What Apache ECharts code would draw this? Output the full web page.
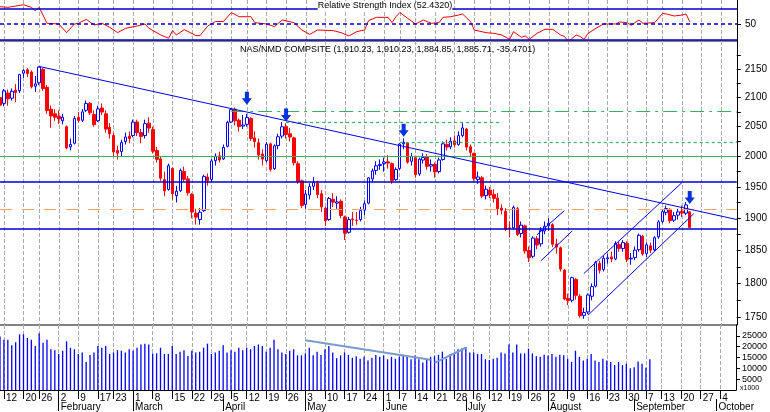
<!DOCTYPE html>
<html><head><meta charset="utf-8">
<script src="https://cdn.jsdelivr.net/npm/echarts@6/dist/echarts.min.js"></script>
<style>html,body{margin:0;padding:0;background:#fff}#c{width:770px;height:412px}</style>
</head><body><div id="c"></div>
<script>
// ---- data ----
const holidays = ['2004-01-19','2004-02-16','2004-04-09','2004-05-31','2004-06-11','2004-07-05','2004-09-06'];
const firstDay = '2004-01-09', lastDay = '2004-10-08';
const monthNames = ['January','February','March','April','May','June','July','August','September','October','November','December'];
const opens = [2100,2090,2108,2099,2113,2112,2143,2149,2145,2120,2126,2150,2118,2080,2072,2068,2060,2050,2016,2022,2066,2061,2078,2090,2071,2060,2082,2072,2049,2035,2010,2008,2025,2034,2035,2058,2040,2035,2056,2045,2010,1996,1962,1946,1980,1936,1944,1975,1963,1938,1908,1898,1912,1966,1962,1993,2001,1996,2017,2058,2080,2061,2051,2054,2064,2031,2023,2004,1993,2021,1980,2018,2034,2050,2038,2031,1988,1960,1922,1937,1951,1956,1939,1916,1898,1930,1924,1927,1902,1878,1899,1897,1898,1913,1924,1963,1977,1985,1988,1991,1988,1962,1980,2021,2022,1992,1998,1971,1994,1999,1984,1987,1975,1995,2020,2016,2026,2020,2035,2046,2016,2005,1962,1965,1936,1945,1938,1932,1916,1911,1885,1885,1915,1876,1888,1850,1841,1868,1860,1880,1888,1890,1860,1854,1820,1778,1775,1806,1781,1753,1758,1781,1796,1830,1821,1837,1840,1837,1859,1853,1861,1837,1839,1851,1872,1845,1857,1851,1871,1895,1909,1914,1897,1905,1911,1908,1910.23];
const closes = [2086.9,2111.8,2097.8,2111.1,2109.1,2140.5,2147.6,2142.5,2119.0,2123.9,2153.8,2116.0,2077.7,2068.2,2066.1,2063.2,2066.2,2014.1,2019.9,2064.0,2060.6,2075.3,2089.7,2073.6,2053.6,2080.4,2075.0,2045.9,2037.9,2007.5,2005.4,2023.0,2032.6,2029.8,2057.8,2039.7,2033.4,2055.1,2047.6,2008.8,1995.2,1964.2,1943.9,1984.7,1939.2,1943.1,1976.8,1962.4,1940.5,1909.9,1901.8,1909.5,1967.2,1960.0,1992.6,2000.6,1994.2,2015.0,2057.2,2079.1,2059.9,2050.2,2052.9,2065.5,2030.1,2024.9,2002.2,1995.7,2020.4,1978.6,2017.7,2032.9,2049.8,2036.8,2032.5,1989.5,1958.8,1920.2,1938.7,1950.5,1957.3,1937.7,1918.0,1896.1,1931.3,1925.6,1926.0,1904.3,1876.6,1897.8,1898.2,1896.6,1912.1,1923.0,1964.7,1976.2,1984.5,1986.7,1990.8,1989.0,1960.3,1978.6,2020.6,2023.5,1990.6,1999.9,1970.0,1995.6,1998.2,1983.7,1986.7,1974.4,1994.2,2021.0,2015.6,2025.5,2019.8,2034.9,2047.8,2015.6,2006.7,1963.9,1966.1,1935.3,1946.3,1936.9,1931.7,1914.9,1912.7,1883.2,1883.8,1917.1,1874.4,1889.1,1849.1,1839.0,1869.1,1858.3,1881.1,1887.4,1892.1,1859.4,1855.1,1821.6,1776.9,1774.6,1808.7,1782.4,1752.5,1757.2,1782.8,1795.3,1831.4,1819.9,1838.0,1838.7,1836.9,1860.7,1852.9,1862.1,1836.5,1838.1,1850.4,1873.4,1844.5,1858.6,1850.4,1869.6,1894.3,1910.4,1915.4,1896.5,1904.1,1910.1,1908.1,1921.2,1885.71];
const highs = [2110,2115,2114,2116,2124,2142,2150,2152,2148,2138,2155,2152,2122,2086,2080,2078,2072,2052,2030,2068,2075,2080,2095,2092,2078,2086,2090,2078,2056,2040,2018,2028,2040,2042,2062,2062,2046,2062,2066,2050,2016,2000,1975,1988,1982,1952,1980,1983,1968,1940,1915,1916,1970,1972,1996,2005,2008,2020,2060,2082,2083,2064,2070,2072,2066,2042,2030,2012,2024,2023,2020,2038,2058,2056,2048,2033,1992,1962,1945,1956,1966,1960,1945,1918,1934,1940,1935,1930,1904,1902,1910,1910,1918,1928,1966,1980,1992,1995,1998,2002,1990,1982,2022,2030,2024,2006,2000,1998,2005,2004,1995,1990,1998,2025,2028,2032,2035,2042,2056,2048,2020,2006,1975,1968,1952,1950,1946,1940,1922,1916,1895,1920,1918,1895,1890,1856,1872,1872,1886,1895,1900,1892,1868,1856,1822,1785,1810,1808,1784,1764,1785,1800,1834,1834,1842,1845,1848,1864,1864,1866,1864,1846,1856,1876,1874,1862,1862,1872,1897,1914,1920,1916,1910,1915,1920,1926,1910.23];
const lows = [2080,2085,2086,2095,2092,2108,2135,2136,2116,2110,2122,2112,2072,2048,2060,2055,2054,2012,2010,2020,2057,2058,2075,2070,2050,2058,2070,2040,2030,2000,1995,2000,2020,2022,2032,2034,2022,2030,2040,2005,1990,1960,1935,1944,1930,1925,1942,1958,1936,1900,1890,1890,1910,1952,1958,1985,1990,1994,2015,2056,2052,2042,2046,2050,2026,2015,1995,1985,1990,1975,1978,2012,2030,2030,2025,1985,1955,1916,1915,1930,1945,1932,1910,1888,1896,1918,1915,1900,1866,1876,1888,1890,1895,1905,1922,1958,1970,1978,1975,1980,1955,1960,1978,2012,1988,1985,1965,1968,1988,1978,1975,1965,1972,1993,2010,2012,2015,2018,2032,2010,2000,1960,1955,1932,1930,1932,1925,1905,1906,1880,1870,1882,1872,1870,1845,1832,1838,1852,1856,1875,1880,1855,1845,1818,1775,1768,1772,1776,1750,1748,1755,1775,1794,1815,1818,1830,1832,1835,1848,1848,1832,1828,1835,1848,1842,1840,1846,1848,1868,1892,1905,1892,1894,1898,1902,1905,1884.85];
const volumes = [24700,23200,23200,20700,22000,25700,25700,24000,23200,20300,26200,21800,23200,18800,18400,
16600,18100,22500,19500,18800,16600,17300,12900,16200,17300,20300,19500,20300,16600,17300,18400,18100,17300,18800,
18100,19500,21000,21300,21000,16900,16900,19500,16600,16600,20300,16600,17700,18400,15700,18100,17300,17700,19500,21400,16600,17300,18100,
20600,17300,18400,17700,19500,18400,19500,18800,20300,21000,20300,17700,19500,23200,18800,17300,16600,18100,18800,16000,16000,
16900,19500,16000,17700,16200,18800,20300,17300,14700,16000,17300,16200,14900,15600,14400,15300,13600,14900,16200,15300,
15900,14200,15300,14400,15300,16300,15600,14200,15900,14200,12700,14400,15300,15600,16200,17700,14400,16600,16900,18800,19100,
19800,17300,17300,16600,16600,14200,13900,14400,14900,17300,16900,21000,17300,21000,16900,16900,19100,16900,15600,15300,16300,
15900,16600,15300,16300,16000,14400,12900,18100,15300,13600,14400,16600,13600,12900,14400,13600,12900,11500,12900,11500,12200,10000,
10500,13200,12100,10300,14200];
const rsiIdx = [0,2,4,6,8,9,10,12,15,17,19,20,22,24,26,28,30,32,35,36,37,38,41,43,44,45,47,50,51,53,55,57,59,61,64,65,68,70,72,75,77,79,81,85,87,89,91,93,94,96,99,100,101,102,104,106,108,110,112,113,115,117,118,120,121,124,126,128,130,131,133,134,135,137,139,141,143,144,145,147,148,149,150,152,154,157,158,160,161,163,164,167,169,170,172,174,175,176];
const rsiVal = [72.3,71.5,73.2,74.9,71.5,67.2,71.5,50.9,50,38.8,50,50.9,56,48.7,50.9,45.7,38.8,44.4,47.4,48.7,50,44.4,35.8,31.5,41.4,35.8,42.7,35,35,47.4,53.2,53.2,64.8,59.4,59.4,51.7,50,46.6,55.2,51.7,42.2,36.5,42.2,41.4,38.8,34.5,40.1,42.2,54.3,58.6,58.6,51.7,59.4,64.8,57.3,50,55.2,50.9,51.7,58.6,59.4,61.6,62.9,53.2,42.2,38.8,37.9,35.8,30.2,40.1,32.8,34.5,30.2,37.9,43.1,43.1,35.8,33.7,27.3,35.8,33.7,30.2,37.9,44.4,50,50,52.6,51.7,48.3,55.2,50.9,51.7,63.7,62.9,60.3,61.6,62.9,52.4];
const priceTicks = [1750,1800,1850,1900,1950,2000,2050,2100,2150];
const volumeTicks = [5000,10000,15000,20000,25000];
const levels = {greenSolid:2000, blueHigh:1959, orange:1914, blueLow:1883};
const rsiTitle = 'Relative Strength Index (52.4320)';
const priceTitle = 'NAS/NMD COMPSITE (1,910.23, 1,910.23, 1,884.85, 1,885.71, -35.4701)';

// ---- categories (trading days) ----
const categories = [];
{ let d = new Date(firstDay+'T00:00:00Z'); const end = new Date(lastDay+'T00:00:00Z');
  while (d <= end) { const s = d.toISOString().slice(0,10); const wd = d.getUTCDay();
    if (wd>0 && wd<6 && holidays.indexOf(s)<0) categories.push(s); d = new Date(d.getTime()+86400000); } }
const weekStart = new Set(), monthStart = new Set();
for (let i=1;i<categories.length;i++){
  const a=new Date(categories[i-1]+'T00:00:00Z'), b=new Date(categories[i]+'T00:00:00Z');
  if (b.getUTCDay() < a.getUTCDay() || (b-a) > 4*86400000) weekStart.add(i);
  if (a.getUTCMonth()!==b.getUTCMonth()) monthStart.add(i);
}
const C = i => categories[i];
const candle = closes.map((c,i)=>[opens[i],c,lows[i],highs[i]]);
const font = 'Liberation Sans';
const arrowPath = 'path://M3,0 L7,0 L7,6 L10,6 L5,12 L0,6 L3,6 Z';
const seg = (i1,p1,i2,p2,style)=>[{coord:[C(i1),p1],lineStyle:style},{coord:[C(i2),p2]}];
const blueLine = {color:'#0000ee',width:1,type:'solid'};
const last = categories.length-1;
const plain = v => String(Math.round(v));

const chart = echarts.init(document.getElementById('c'),null,{renderer:'canvas'});
const vgrid = {type:'dashed',color:'#aaaaaa',width:1};
function xa(gi, extra){ return Object.assign({type:'category',gridIndex:gi,data:categories,boundaryGap:false,position:'bottom',
  axisLine:{show:false},axisTick:{show:false},axisLabel:{show:false},
  splitLine:{show:true,interval:(i)=>weekStart.has(i),lineStyle:vgrid}},extra||{}); }
chart.setOption({
  animation:false,
  grid:[{left:0,right:33,top:0,height:41},{left:0,right:33,top:41,height:284},{left:0,right:33,top:325,height:66}],
  xAxis:[xa(0),xa(1),
    xa(2,{axisLine:{show:true,lineStyle:{color:'#000'}},axisTick:{show:true,interval:(i)=>weekStart.has(i),length:9,lineStyle:{color:'#000'}},
      axisLabel:{show:true,interval:(i)=>weekStart.has(i),formatter:v=>String(+v.slice(8)),align:'left',padding:[0,0,0,2],margin:3,fontSize:10,fontFamily:font,color:'#000'}}),
    xa(2,{splitLine:{show:false},offset:9,axisTick:{show:true,interval:(i)=>monthStart.has(i),length:12,lineStyle:{color:'#000'}},
      axisLabel:{show:true,interval:(i)=>monthStart.has(i),formatter:v=>monthNames[+v.slice(5,7)-1],align:'left',padding:[0,0,0,2],margin:3,fontSize:10,fontFamily:font,color:'#000'}})],
  yAxis:[
    {type:'value',gridIndex:0,min:28,max:81,position:'right',axisLine:{show:true,lineStyle:{color:'#000'}},
     axisTick:{show:true,customValues:[50],length:4,lineStyle:{color:'#000'}},splitLine:{show:false},
     axisLabel:{customValues:[50],formatter:plain,fontSize:10,fontFamily:font,color:'#000',margin:8}},
    {type:'log',gridIndex:1,min:1739,max:2201,position:'right',axisLine:{show:true,lineStyle:{color:'#000'}},
     axisTick:{show:true,customValues:[1750,1775,1800,1825,1850,1875,1900,1925,1950,1975,2000,2025,2050,2075,2100,2125,2150,2175],length:4,lineStyle:{color:'#000'}},
     splitLine:{show:false},axisLabel:{customValues:priceTicks,formatter:plain,fontSize:10,fontFamily:font,color:'#000',margin:8}},
    {type:'value',gridIndex:2,min:0,max:30000,position:'right',axisLine:{show:true,lineStyle:{color:'#000'}},
     axisTick:{show:true,customValues:volumeTicks,length:4,lineStyle:{color:'#000'}},splitLine:{show:false},
     axisLabel:{customValues:volumeTicks,formatter:plain,fontSize:9,fontFamily:font,color:'#000',margin:6}}
  ],
  series:[
    {type:'line',xAxisIndex:0,yAxisIndex:0,data:rsiIdx.map((ix,k)=>[C(ix),rsiVal[k]]),showSymbol:false,
     lineStyle:{color:'#ee0000',width:1},
     markLine:{silent:true,symbol:'none',label:{show:false},
       data:[{yAxis:70,lineStyle:{color:'#0000cc',width:1.5,type:'solid'}},{yAxis:50,lineStyle:{color:'#0000cc',width:1.5,type:[4,3]}},{yAxis:30,lineStyle:{color:'#0000cc',width:1.5,type:'solid'}}]}},
    {type:'candlestick',xAxisIndex:1,yAxisIndex:1,data:candle,barWidth:3,
     itemStyle:{color:'#ffffff',color0:'#ff0000',borderColor:'#0000ff',borderColor0:'#ff0000',borderWidth:1},
     markLine:{silent:true,symbol:'none',label:{show:false},animation:false,
       data:[
        {yAxis:levels.greenSolid,lineStyle:{color:'#33b060',width:1.2,type:'solid'}},
        {yAxis:levels.blueHigh,lineStyle:{color:'#0000cc',width:1.5,type:'solid'}},
        {yAxis:levels.orange,lineStyle:{color:'#f4a460',width:1.2,type:[12,10]}},
        {yAxis:levels.blueLow,lineStyle:{color:'#0000cc',width:1.5,type:'solid'}},
        seg(59,2077,last,2077,{color:'#33b060',width:1.2,type:[14,5,3,5]}),
        seg(73,2057,128,2057,{color:'#33b060',width:1.2,type:[3,3]}),
        seg(102,2024,last,2024,{color:'#33b060',width:1.2,type:[3,3]}),
        seg(10,2155,last,1898,blueLine),
        seg(137,1874,144,1912,blueLine),
        seg(138,1834,146,1880,blueLine),
        seg(149,1815,174,1957,blueLine),
        seg(150,1753,177,1907,blueLine)
       ]},
     markPoint:{silent:true,symbol:arrowPath,symbolSize:[10,13],itemStyle:{color:'#0033dd'},label:{show:false},
       data:[{coord:[C(63),2099]},{coord:[C(73),2070]},{coord:[C(103),2044]},{coord:[C(176),1933]}]}},
    {type:'bar',xAxisIndex:2,yAxisIndex:2,data:volumes,barWidth:1.3,itemStyle:{color:'#0000ff'},
     markLine:{silent:true,symbol:'none',label:{show:false},
       data:[seg(78,23000,110,14000,{color:'#7a9bd0',width:2,type:'solid'}),seg(111,12500,119,19500,{color:'#7a9bd0',width:2,type:'solid'})]}}
  ],
  graphic:[
    {type:'line',shape:{x1:0,y1:41,x2:737,y2:41},style:{stroke:'#000',lineWidth:1}},
    {type:'line',shape:{x1:0,y1:325,x2:737,y2:325},style:{stroke:'#000',lineWidth:1}},
    {type:'text',left:'center',top:1,style:{text:rsiTitle,font:'9px '+font,fill:'#000',backgroundColor:'#fff'},z:100},
    {type:'text',x:240,y:45,style:{text:priceTitle,font:'9px '+font,fill:'#000'},z:100},
    {type:'text',x:740,y:385,style:{text:'x1000',font:'7px '+font,fill:'#000'},z:100}
  ]
});
</script></body></html>
